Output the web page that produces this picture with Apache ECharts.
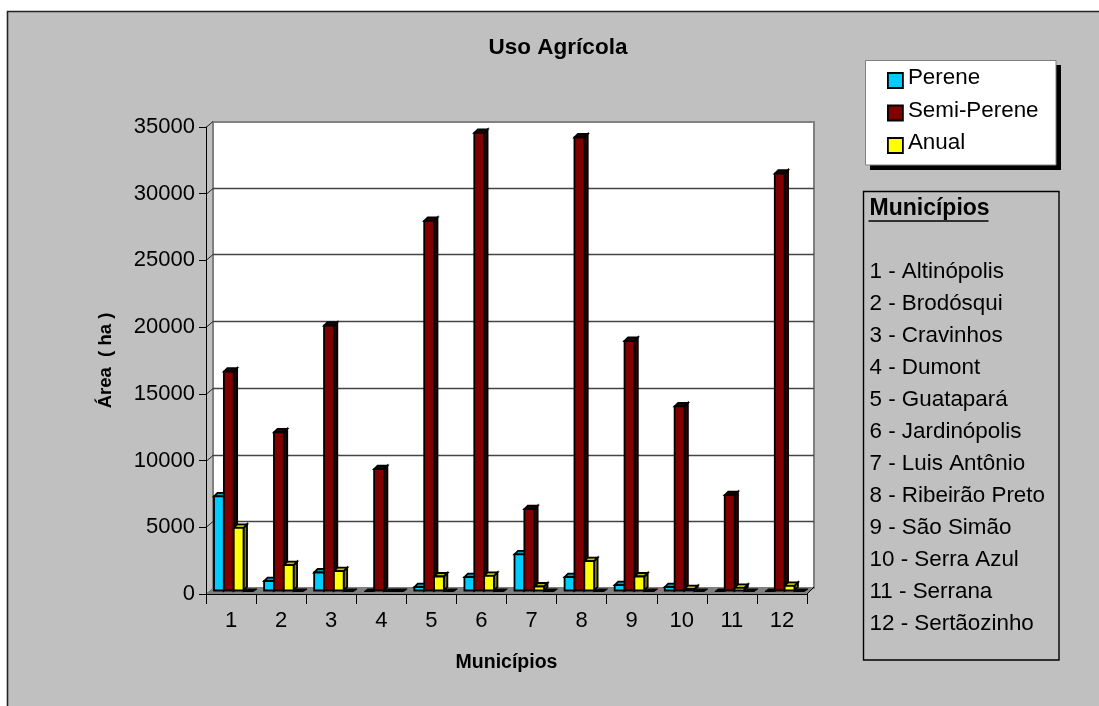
<!DOCTYPE html>
<html><head><meta charset="utf-8">
<style>html,body{margin:0;padding:0;background:#fff}#c{width:1099px;height:706px}</style>
<script src="https://cdn.jsdelivr.net/npm/echarts@6/dist/echarts.min.js"></script>
</head><body><div id="c"></div>
<script>
const categories = ['1','2','3','4','5','6','7','8','9','10','11','12'];
const perene     = [7050,700,1350,0,250,1000,2700,1000,400,250,0,0];
const semiPerene = [16400,11850,19850,9100,27700,34300,6100,33950,18700,13800,7150,31250];
const anual      = [4700,1900,1450,0,1050,1100,300,2200,1050,100,200,350];
const vazio      = [0,0,0,0,0,0,0,0,0,0,0,0];
const yTicks     = [0,5000,10000,15000,20000,25000,30000,35000];
const municipios = ['1 - Altinópolis','2 - Brodósqui','3 - Cravinhos','4 - Dumont','5 - Guatapará','6 - Jardinópolis','7 - Luis Antônio','8 - Ribeirão Preto','9 - São Simão','10 - Serra Azul','11 - Serrana','12 - Sertãozinho'];

const FONT = '"Liberation Sans", Arial, sans-serif';
const DX = 7, DY = 6, D = 3.5;

function barSeries(name, values, idx, front, side, top) {
  return {
    name, type: 'custom', xAxisIndex: 1, yAxisIndex: 1, z: 5 + idx,
    itemStyle: { color: front },
    data: values.map((v, i) => [i, v]),
    encode: { x: 0, y: 1 },
    renderItem(params, api) {
      const cat = api.value(0), val = api.value(1);
      const p = api.coord([cat, val]);
      const z = api.coord([cat, 0]);
      const band = api.size([1, 0])[0];
      const w = band * 0.195;
      const x0 = p[0] - band * 0.34 + idx * band * 0.197;
      const x1 = x0 + w;
      const yb = z[1] - 3.5, yt = p[1] - 3.5;
      const black = { stroke: '#000', lineWidth: 1.8 };
      if (val === 0) {
        return { type: 'polygon', shape: { points: [[x0, yb + 1], [x1, yb + 1], [x1 + D, yb - 1.5], [x0 + D, yb - 1.5]] }, style: { fill: '#000', stroke: '#000', lineWidth: 1 } };
      }
      return { type: 'group', children: [
        { type: 'polygon', shape: { points: [[x1, yt], [x1 + D, yt - D], [x1 + D, yb - D], [x1, yb]] }, style: { fill: side, ...black } },
        { type: 'polygon', shape: { points: [[x0, yt], [x0 + D, yt - D], [x1 + D, yt - D], [x1, yt]] }, style: { fill: top, ...black } },
        { type: 'rect', shape: { x: x0, y: yt, width: w, height: yb - yt }, style: { fill: front, ...black } }
      ] };
    }
  };
}

const floorSeries = {
  type: 'custom', xAxisIndex: 1, yAxisIndex: 1, z: 3, silent: true, data: [[0, 0]], encode: { x: 0, y: 1 },
  renderItem(params) {
    const c = params.coordSys, b = c.y + c.height, r = c.x + c.width;
    return { type: 'group', children: [
      { type: 'polygon', shape: { points: [[c.x, b], [r, b], [r + DX, b - DY], [c.x + DX, b - DY]] }, style: { fill: '#808080' } },
      { type: 'line', shape: { x1: r, y1: b, x2: r + DX, y2: b - DY - 1 }, style: { stroke: '#000', lineWidth: 1 } }
    ] };
  }
};
const slantSeries = {
  type: 'custom', xAxisIndex: 1, yAxisIndex: 1, z: 2, silent: true,
  data: yTicks.map(t => [0, t]), encode: { x: 0, y: 1 },
  renderItem(params, api) {
    const c = params.coordSys, v = api.value(1), y = Math.round(api.coord([0, v])[1]) + 0.5;
    const kids = [{ type: 'line', shape: { x1: c.x, y1: y, x2: c.x + DX, y2: y - DY }, style: { stroke: '#222', lineWidth: 1 } }];
    if (v > 0 && v < 35000) kids.push({ type: 'line', shape: { x1: c.x + DX, y1: y - DY, x2: c.x + c.width + DX, y2: y - DY }, style: { stroke: '#444', lineWidth: 1.5 } });
    return { type: 'group', children: kids };
  }
};

const boxX = 863.5, boxY = 191.5;
const listTexts = municipios.map((t, i) => ({
  type: 'text', x: boxX + 6, y: 271.5 + i * 32.05,
  style: { text: t, font: '22.4px ' + FONT, fill: '#000', textVerticalAlign: 'middle' }, z: 20
}));

const chart = echarts.init(document.getElementById('c'), null, { renderer: 'canvas' });
chart.setOption({
  animation: false,
  backgroundColor: '#fff',
  title: { text: 'Uso Agrícola', left: 558, top: 36, textAlign: 'center',
    textStyle: { fontFamily: FONT, fontSize: 22.5, fontWeight: 'bold', color: '#000' }, padding: 0 },
  legend: {
    data: ['Perene', 'Semi-Perene', 'Anual'], orient: 'vertical', left: 887, top: 67,
    padding: 0, itemWidth: 15, itemHeight: 15, itemGap: 7, icon: 'rect', z: 20,
    itemStyle: { borderColor: '#000', borderWidth: 1.8 },
    formatter: name => '{t|' + name + '}\n{s| }',
    textStyle: { fontFamily: FONT, fontSize: 22.4, color: '#000',
      rich: {
        t: { fontFamily: FONT, fontSize: 22.4, lineHeight: 23, color: '#000' },
        s: { fontFamily: FONT, fontSize: 1, lineHeight: 5 }
      } },
    selectedMode: false
  },
  grid: [
    { left: 213, top: 122, width: 601, height: 466, show: true, backgroundColor: '#fff', borderColor: '#808080', borderWidth: 2, z: 1 },
    { left: 206, top: 127, width: 601, height: 467, show: false, z: 2 }
  ],
  xAxis: [
    { gridIndex: 0, type: 'category', data: categories, show: false },
    { gridIndex: 1, type: 'category', data: categories, boundaryGap: true,
      axisLine: { show: true, lineStyle: { color: '#000', width: 1 } },
      axisTick: { show: true, length: 10, lineStyle: { color: '#000', width: 1 } },
      axisLabel: { fontFamily: FONT, fontSize: 22, color: '#000', margin: 16 },
      name: 'Municípios', nameLocation: 'middle', nameGap: 59,
      nameTextStyle: { fontFamily: FONT, fontSize: 19.5, fontWeight: 'bold', color: '#000' }, z: 6 }
  ],
  yAxis: [
    { gridIndex: 0, type: 'value', min: 0, max: 35000, interval: 5000,
      axisLine: { show: false }, axisTick: { show: false }, axisLabel: { show: false },
      splitLine: { show: false } },
    { gridIndex: 1, type: 'value', min: 0, max: 35000, interval: 5000,
      axisLine: { show: true, onZero: false, lineStyle: { color: '#000', width: 1 } },
      axisTick: { show: true, length: 7, lineStyle: { color: '#000', width: 1 } },
      axisLabel: { fontFamily: FONT, fontSize: 22, color: '#000', margin: 11, formatter: v => String(v) },
      splitLine: { show: false },
      name: 'Área  ( ha )', nameLocation: 'middle', nameGap: 91, nameRotate: 90,
      nameTextStyle: { fontFamily: FONT, fontSize: 18.5, fontWeight: 'bold', color: '#000' }, z: 6 }
  ],
  graphic: { elements: [
    { type: 'rect', z: -10, shape: { x: 7.5, y: 11.5, width: 1200, height: 800 }, style: { fill: '#c0c0c0', stroke: '#222', lineWidth: 1.6 } },
    { type: 'rect', z: 18, shape: { x: 870, y: 65, width: 191, height: 105 }, style: { fill: '#000' } },
    { type: 'rect', z: 18, shape: { x: 865.5, y: 60.5, width: 190.5, height: 104.5 }, style: { fill: '#fff', stroke: '#808080', lineWidth: 1 } },
    { type: 'rect', z: 19, shape: { x: boxX, y: boxY, width: 195.5, height: 468.5 }, style: { fill: '#c0c0c0', stroke: '#000', lineWidth: 1.4 } },
    { type: 'text', z: 20, x: boxX + 6, y: 209, style: { text: 'Municípios', font: 'bold 23px ' + FONT, fill: '#000', textVerticalAlign: 'middle' } },
    { type: 'line', z: 20, shape: { x1: boxX + 5, y1: 221, x2: boxX + 125, y2: 221 }, style: { stroke: '#000', lineWidth: 1.5 } },
    ...listTexts
  ] },
  series: [
    floorSeries, slantSeries,
    barSeries('Perene', perene, 0, '#00ccff', '#0099bf', '#0099bf'),
    barSeries('Semi-Perene', semiPerene, 1, '#800000', '#300000', '#200000'),
    barSeries('Anual', anual, 2, '#ffff00', '#808000', '#bfbf00'),
    barSeries('Vazio', vazio, 3, '#000', '#000', '#000')
  ]
});
</script></body></html>
